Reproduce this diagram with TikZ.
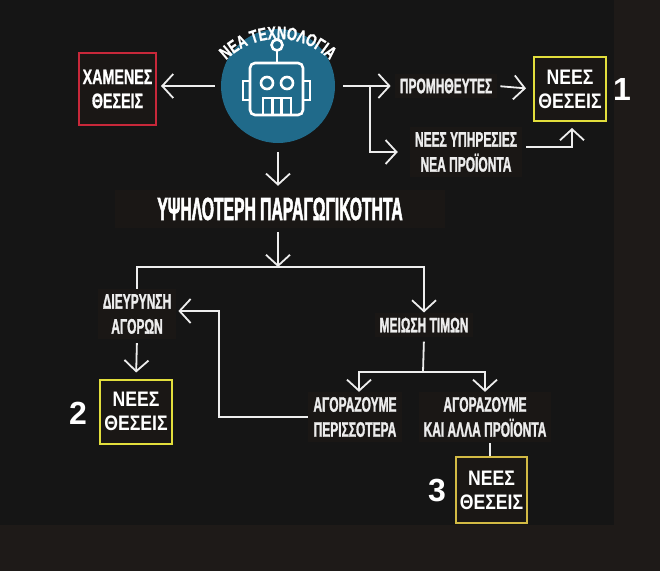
\documentclass[tikz,border=0pt]{standalone}
\usepackage{fontspec}
\usetikzlibrary{positioning, arrows.meta, decorations.text}
\setmainfont{Liberation Sans}
\newfontfamily\narrowfont[FakeStretch=0.57, FakeBold=1.3]{Liberation Sans}
\newfontfamily\titlefont[FakeStretch=0.49, FakeBold=1.6]{Liberation Sans}
\newfontfamily\boxfont[FakeStretch=0.84]{Liberation Sans}
\newfontfamily\lostfont[FakeStretch=0.68, FakeBold=0.8]{Liberation Sans}
\newfontfamily\archfont[FakeStretch=0.72, FakeBold=1]{Liberation Sans}
\definecolor{SlideBg}{HTML}{151515}
\definecolor{SlideBand}{HTML}{1E1A18}
\definecolor{LabelBg}{HTML}{1A1715}
\definecolor{RobotBlue}{HTML}{206A8A}
\definecolor{JobYellow}{HTML}{E2DE3C}
\definecolor{JobGold}{HTML}{D2BA44}
\definecolor{LostRed}{HTML}{C8283A}
\definecolor{LineWhite}{HTML}{EDEDED}
\tikzset{
  lbl/.style={font=\narrowfont\bfseries\fontsize{21}{25}\selectfont, text=LineWhite, align=center, fill=LabelBg, inner sep=5pt},
  jobbox/.style={draw=JobYellow, line width=2pt, font=\boxfont\bfseries\fontsize{21}{24}\selectfont, text=white, align=center, minimum width=72pt, minimum height=64pt, inner sep=0pt, fill=LabelBg},
  num/.style={font=\bfseries\fontsize{32}{32}\selectfont, text=white},
  flow/.style={draw=LineWhite, line width=1.8pt},
  >={Straight Barb[length=11pt,width=24pt]}
}

\begin{document}
\begin{tikzpicture}[x=1pt, y=-1pt]
  \fill[SlideBg] (0,0) rectangle (660,571);
  \fill[SlideBand] (0,525) rectangle (660,571);
  \fill[SlideBand] (614,0) rectangle (660,525);
  \useasboundingbox (0,0) rectangle (660,571);

  \node[circle, fill=RobotBlue, minimum size=114pt, inner sep=0pt] (tech) at (278,86) {};
  % robot icon
  \begin{scope}[draw=white, line width=2.6pt]
    \draw (277,45) circle[radius=5.5];
    \draw (277,50.5) -- (277,63);
    \draw[rounded corners=5pt] (250,63) rectangle (303,115);
    \draw (250,81) -- (243,81) -- (243,100) -- (250,100);
    \draw (303,81) -- (310,81) -- (310,100) -- (303,100);
    \draw (267,83) circle[radius=6];
    \draw (287,83) circle[radius=6];
    \draw (263,115) -- (263,98) -- (291,98) -- (291,115);
    \draw (272.3,98) -- (272.3,115) (281.7,98) -- (281.7,115);
  \end{scope}
  \path[decorate, decoration={text along path, text align=center, text color=white,
      text={|\archfont\bfseries\fontsize{18}{18}\selectfont|ΝΕΑ ΤΕΧΝΟΛΟΓΙΑ}}]
    (278,113) ++(-142:74) arc[start angle=-142, end angle=-38, radius=74];

  \node[draw=LostRed, line width=2pt, font=\lostfont\bfseries\fontsize{21}{24}\selectfont, text=white, align=center, minimum width=77pt, minimum height=72pt, inner sep=0pt, fill=LabelBg] (lost) at (117.5,89) {ΧΑΜΕΝΕΣ\\ΘΕΣΕΙΣ};
  \node[lbl] (supp) at (446,86) {ΠΡΟΜΗΘΕΥΤΕΣ};
  \node[lbl] (newprod) at (466,152) {ΝΕΕΣ ΥΠΗΡΕΣΙΕΣ\\ΝΕΑ ΠΡΟΪΟΝΤΑ};
  \node[jobbox] (jobs1) at (570,89) {ΝΕΕΣ\\ΘΕΣΕΙΣ};
  \node[num] (num1) at (622,89) {1};
  \node[font=\titlefont\bfseries\fontsize{32}{32}\selectfont, text=white, fill=LabelBg, minimum width=330pt, minimum height=38pt] (prod) at (280,209) {ΥΨΗΛΟΤΕΡΗ ΠΑΡΑΓΩΓΙΚΟΤΗΤΑ};
  \node[lbl] (expand) at (137,314) {ΔΙΕΥΡΥΝΣΗ\\ΑΓΟΡΩΝ};
  \node[jobbox] (jobs2) at (136,411.5) {ΝΕΕΣ\\ΘΕΣΕΙΣ};
  \node[num] (num2) at (78,413) {2};
  \node[lbl] (price) at (424,325) {ΜΕΙΩΣΗ ΤΙΜΩΝ};
  \node[lbl] (more) at (355,417) {ΑΓΟΡΑΖΟΥΜΕ\\ΠΕΡΙΣΣΟΤΕΡΑ};
  \node[lbl] (other) at (485,417) {ΑΓΟΡΑΖΟΥΜΕ\\ΚΑΙ ΑΛΛΑ ΠΡΟΪΟΝΤΑ};
  \node[jobbox, draw=JobGold, minimum height=66pt, minimum width=71pt] (jobs3) at (491.5,490) {ΝΕΕΣ\\ΘΕΣΕΙΣ};
  \node[num] (num3) at (437,490) {3};

  \coordinate (split1) at (370,86);
  \coordinate (split2) at (278,267);
  \coordinate (split3) at (423,372);

  % top row
  \draw[flow, ->, shorten <=6pt, shorten >=4pt] (tech.west) -- (tech.west -| lost.east);
  \draw[flow, ->, shorten <=8pt, shorten >=4pt] (tech.east) -- (supp.west);
  \draw[flow, ->, shorten >=12pt] (split1) |- (newprod.west);
  \draw[flow, ->, shorten <=3pt, shorten >=7pt] (supp.east) -- (jobs1.west);
  \draw[flow, ->, shorten >=6pt] ([xshift=4pt, yshift=5pt]newprod.east) -| ([xshift=2pt]jobs1.south);
  \draw[flow, ->, shorten <=9pt, shorten >=4pt] (tech.south) -- (tech.south |- prod.north);

  % second level
  \draw[flow, ->, shorten <=4pt] (prod.south -| split2) -- (split2);
  \draw[flow] (split2) -| (expand.north);
  \draw[flow, ->] (split2) -| (price.north);
  \draw[flow, ->, shorten <=4pt, shorten >=6pt] (expand.south) -- (jobs2.north);
  \draw[flow, shorten <=4pt] (price.south) -- (split3);
  \draw[flow, ->] (split3) -| ([xshift=4pt]more.north);
  \draw[flow, ->] (split3) -| (other.north);
  \draw[flow, ->, shorten >=2pt] (more.west) -- ++(-89,0) |- ([yshift=3pt]expand.east);
  \draw[flow, shorten <=1pt] ([xshift=5pt]other.south) -- ([xshift=-1.5pt]jobs3.north);
\end{tikzpicture}
\end{document}
